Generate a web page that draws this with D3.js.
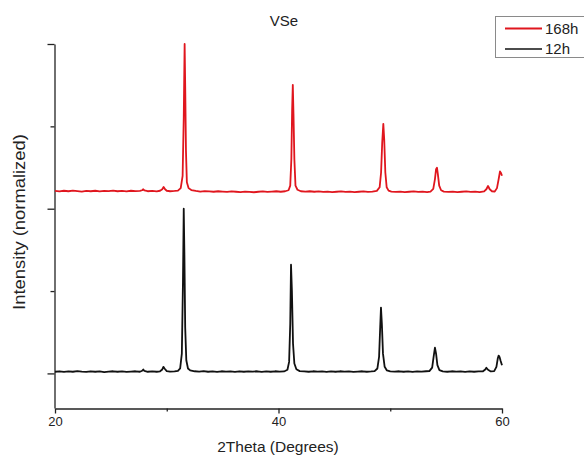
<!DOCTYPE html>
<html>
<head>
<meta charset="utf-8">
<script src="https://cdn.jsdelivr.net/npm/d3@7"></script>
<style>
  html, body { margin: 0; padding: 0; background: #fff; }
  svg { display: block; font-family: "Liberation Sans", Arial, sans-serif; }
</style>
</head>
<body>
<svg id="chart" width="584" height="456"></svg>
<script>
// XRD patterns of VSe, [2theta (deg), normalized intensity]; the 168h pattern is offset upward
const pattern12h = [
  [20.0,0.010],[20.4,0.013],[20.8,0.009],[21.2,0.012],[21.6,0.010],[22.0,0.014],[22.4,0.011],[22.8,0.009],
  [23.2,0.013],[23.6,0.010],[24.0,0.012],[24.4,0.008],[24.8,0.011],[25.2,0.013],[25.6,0.010],[26.0,0.012],
  [26.4,0.009],[26.8,0.011],[27.2,0.013],[27.6,0.010],[27.8,0.016],[27.9,0.024],[28.0,0.015],[28.3,0.010],
  [28.7,0.012],[29.1,0.010],[29.4,0.013],[29.6,0.024],[29.7,0.040],[29.8,0.030],[30.0,0.014],[30.3,0.011],
  [30.7,0.012],[31.0,0.016],[31.2,0.030],[31.35,0.12],[31.45,0.55],[31.52,1.00],[31.58,0.72],[31.65,0.28],
  [31.75,0.08],[31.9,0.030],[32.1,0.018],[32.5,0.013],[32.9,0.011],[33.3,0.014],[33.7,0.010],[34.1,0.012],
  [34.5,0.009],[34.9,0.013],[35.3,0.011],[35.7,0.012],[36.1,0.009],[36.5,0.013],[36.9,0.010],[37.3,0.012],
  [37.7,0.011],[38.1,0.013],[38.5,0.009],[38.9,0.012],[39.3,0.010],[39.7,0.013],[40.1,0.011],[40.5,0.012],
  [40.8,0.022],[40.95,0.07],[41.05,0.30],[41.12,0.66],[41.2,0.50],[41.3,0.18],[41.42,0.06],[41.6,0.025],
  [41.9,0.014],[42.3,0.012],[42.7,0.010],[43.1,0.013],[43.5,0.011],[43.9,0.012],[44.3,0.009],[44.7,0.012],
  [45.1,0.010],[45.5,0.013],[45.9,0.011],[46.3,0.012],[46.7,0.009],[47.1,0.011],[47.5,0.013],[47.9,0.010],
  [48.3,0.012],[48.6,0.014],[48.85,0.030],[49.0,0.10],[49.1,0.28],[49.17,0.40],[49.25,0.30],[49.35,0.12],
  [49.5,0.040],[49.7,0.018],[50.0,0.012],[50.4,0.011],[50.8,0.013],[51.2,0.010],[51.6,0.012],[52.0,0.009],
  [52.4,0.012],[52.8,0.011],[53.2,0.013],[53.5,0.014],[53.75,0.035],[53.88,0.10],[54.0,0.157],[54.1,0.12],
  [54.22,0.050],[54.4,0.020],[54.7,0.012],[55.1,0.010],[55.5,0.013],[55.9,0.011],[56.3,0.012],[56.7,0.009],
  [57.1,0.012],[57.5,0.010],[57.9,0.012],[58.3,0.013],[58.5,0.024],[58.6,0.034],[58.75,0.022],[59.0,0.012],
  [59.3,0.014],[59.5,0.040],[59.62,0.09],[59.7,0.108],[59.78,0.10],[59.88,0.075],[60.0,0.050]
];

const pattern168h = [
  [20.0,1.108],[20.4,1.105],[20.8,1.109],[21.2,1.106],[21.6,1.110],[22.0,1.107],[22.4,1.104],[22.8,1.108],
  [23.2,1.106],[23.6,1.109],[24.0,1.105],[24.4,1.108],[24.8,1.107],[25.2,1.110],[25.6,1.106],[26.0,1.108],
  [26.4,1.105],[26.8,1.109],[27.2,1.107],[27.6,1.108],[27.8,1.112],[27.9,1.118],[28.0,1.111],[28.3,1.106],
  [28.7,1.108],[29.1,1.105],[29.4,1.109],[29.6,1.118],[29.72,1.132],[29.85,1.118],[30.0,1.109],[30.3,1.106],
  [30.7,1.108],[31.0,1.110],[31.25,1.125],[31.42,1.20],[31.52,1.55],[31.6,2.00],[31.66,1.70],[31.72,1.35],
  [31.8,1.16],[31.95,1.125],[32.2,1.113],[32.6,1.108],[33.0,1.104],[33.4,1.107],[33.8,1.105],[34.2,1.103],
  [34.6,1.106],[35.0,1.104],[35.4,1.102],[35.8,1.105],[36.2,1.103],[36.6,1.101],[37.0,1.104],[37.4,1.102],
  [37.8,1.100],[38.2,1.103],[38.6,1.105],[39.0,1.102],[39.4,1.104],[39.8,1.106],[40.2,1.103],[40.6,1.106],
  [40.9,1.112],[41.05,1.14],[41.15,1.30],[41.22,1.60],[41.28,1.752],[41.34,1.58],[41.42,1.30],[41.52,1.14],
  [41.7,1.115],[42.0,1.106],[42.4,1.104],[42.8,1.106],[43.2,1.103],[43.6,1.105],[44.0,1.102],[44.4,1.104],
  [44.8,1.101],[45.2,1.103],[45.6,1.105],[46.0,1.102],[46.4,1.104],[46.8,1.101],[47.2,1.103],[47.6,1.105],
  [48.0,1.102],[48.4,1.104],[48.8,1.108],[49.05,1.13],[49.18,1.22],[49.28,1.40],[49.38,1.515],[49.46,1.42],
  [49.56,1.22],[49.68,1.13],[49.85,1.11],[50.1,1.104],[50.5,1.102],[50.9,1.104],[51.3,1.101],[51.7,1.103],
  [52.1,1.105],[52.5,1.102],[52.9,1.104],[53.3,1.101],[53.6,1.104],[53.85,1.12],[54.0,1.18],[54.1,1.24],
  [54.18,1.249],[54.26,1.21],[54.38,1.14],[54.55,1.112],[54.8,1.104],[55.2,1.102],[55.6,1.104],[56.0,1.101],
  [56.4,1.103],[56.8,1.105],[57.2,1.102],[57.6,1.104],[58.0,1.101],[58.4,1.105],[58.6,1.118],[58.75,1.138],
  [58.9,1.118],[59.1,1.106],[59.35,1.104],[59.55,1.125],[59.7,1.18],[59.82,1.226],[59.92,1.215],[60.0,1.200]
];

const seriesNames = ["168h", "12h"];
const seriesColors = ["#e0161e", "#111111"];

const xMajorTicks = [20, 40, 60];
const xMinorTicks = [30, 50];
const yMajorTicks = [0, 1, 2];
const yMinorTicks = [0.5, 1.5];

const svg = d3.select("#chart");
svg.append("rect").attr("width", 584).attr("height", 456).attr("fill", "#fff");

const x = d3.scaleLinear().domain([20, 60]).range([55, 502]);
const y = d3.scaleLinear().domain([-0.21, 2]).range([408, 44]);

const axisColor = "#222";

// x axis: labelled major ticks plus short minor ticks
const gx = svg.append("g").attr("transform", "translate(0,408.5)");
gx.call(d3.axisBottom(x).tickValues(xMajorTicks).tickSize(5).tickSizeOuter(0).tickFormat(d3.format("d")));
gx.append("g").call(d3.axisBottom(x).tickValues(xMinorTicks).tickSize(3).tickSizeOuter(0).tickFormat(""))
  .select(".domain").remove();
gx.selectAll("path,line").attr("stroke", axisColor).attr("stroke-width", 1.3);
gx.selectAll("text").attr("fill", "#222").attr("font-size", 13)
  .attr("font-family", "Liberation Sans, Arial, sans-serif").attr("dy", "0.7em");

// y axis: unlabelled ticks
const gy = svg.append("g").attr("transform", "translate(54.5,0)");
gy.call(d3.axisLeft(y).tickValues(yMajorTicks).tickSize(7).tickSizeOuter(0).tickFormat(""));
gy.append("g").call(d3.axisLeft(y).tickValues(yMinorTicks).tickSize(4).tickSizeOuter(0).tickFormat(""))
  .select(".domain").remove();
gy.selectAll("path,line").attr("stroke", axisColor).attr("stroke-width", 1.3);

// patterns
const line = d3.line().x(d => x(d[0])).y(d => y(d[1]));
[pattern168h, pattern12h].forEach((data, i) => {
  svg.append("path").datum(data)
    .attr("d", line)
    .attr("fill", "none")
    .attr("stroke", seriesColors[i])
    .attr("stroke-width", 1.8)
    .attr("stroke-linejoin", "round");
});

// title and axis labels
svg.append("text").attr("x", 284).attr("y", 26).attr("text-anchor", "middle")
  .attr("font-size", 15).attr("fill", "#222").text("VSe");
svg.append("text").attr("x", 278).attr("y", 452).attr("text-anchor", "middle")
  .attr("font-size", 15.5).attr("fill", "#222").text("2Theta (Degrees)");
svg.append("text")
  .attr("transform", "translate(25,222) rotate(-90) scale(1.15,1)")
  .attr("text-anchor", "middle").attr("font-size", 16).attr("fill", "#222")
  .text("Intensity (normalized)");

// legend
const legend = svg.append("g");
legend.append("rect").attr("x", 495.5).attr("y", 16.5).attr("width", 100).attr("height", 41)
  .attr("fill", "#fff").attr("stroke", "#8a8a8a").attr("stroke-width", 1);
const legendY = [28.5, 49];
seriesNames.forEach((name, i) => {
  legend.append("line").attr("x1", 505).attr("x2", 542)
    .attr("y1", legendY[i]).attr("y2", legendY[i])
    .attr("stroke", seriesColors[i]).attr("stroke-width", i === 0 ? 2.2 : 1.6);
  legend.append("text").attr("x", 545).attr("y", legendY[i] + 5)
    .attr("font-size", 15).attr("fill", "#222").text(name);
});
</script>
</body>
</html>
